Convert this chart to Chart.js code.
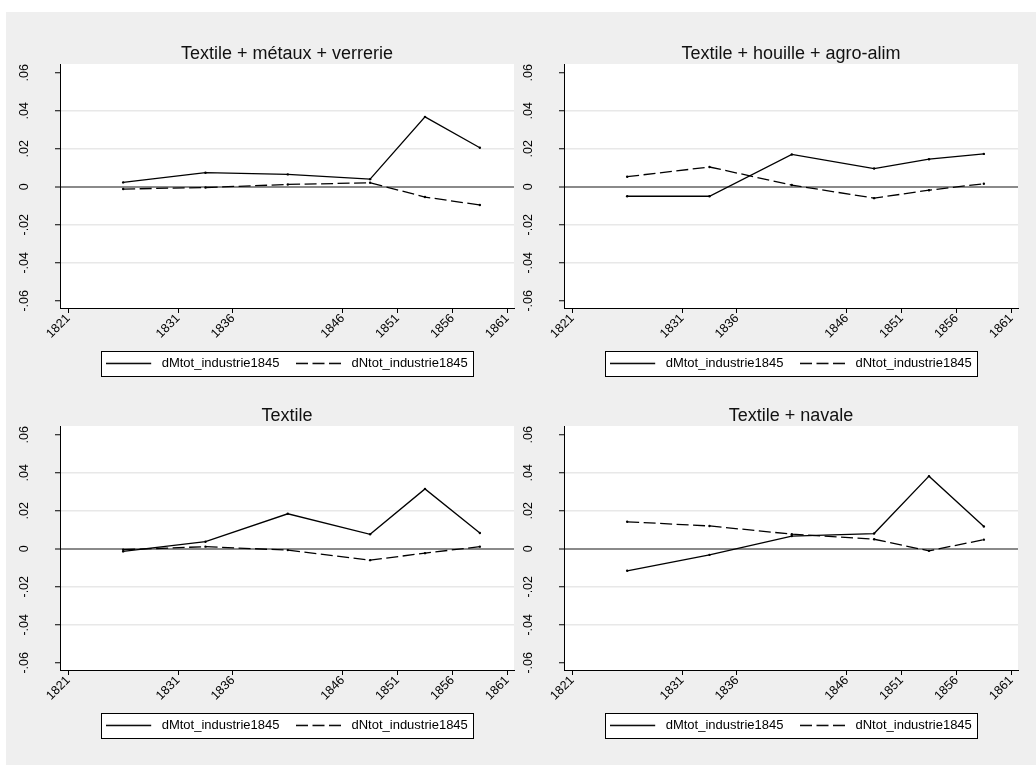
<!DOCTYPE html>
<html>
<head>
<meta charset="utf-8">
<script src="https://cdn.jsdelivr.net/npm/chart.js@4.4.1/dist/chart.umd.min.js"></script>
<style>
  html, body { margin: 0; padding: 0; background: #ffffff; width: 1036px; height: 765px; overflow: hidden; }
  #frame { position: absolute; left: 6px; top: 12px; width: 1030px; height: 753px; background: #efefef; }
  .panel { position: absolute; width: 512px; height: 388px; }
  .panel canvas { display: block; }
</style>
</head>
<body>
<div id="frame"></div>
<div class="panel" style="left:6px;top:12px"><canvas id="p0" width="512" height="388"></canvas></div>
<div class="panel" style="left:510px;top:12px"><canvas id="p1" width="512" height="388"></canvas></div>
<div class="panel" style="left:6px;top:374px"><canvas id="p2" width="512" height="388"></canvas></div>
<div class="panel" style="left:510px;top:374px"><canvas id="p3" width="512" height="388"></canvas></div>
<script>
// Midpoints of the census intervals (1821-31, 1831-36, 1836-46, 1846-51, 1851-56, 1856-61)
const years = [1826, 1833.5, 1841, 1848.5, 1853.5, 1858.5];

const xTickValues = [1821, 1831, 1836, 1846, 1851, 1856, 1861];
const xTickLabels = ['1821', '1831', '1836', '1846', '1851', '1856', '1861'];
const yTickValues = [-0.06, -0.04, -0.02, 0, 0.02, 0.04, 0.06];
const yTickLabels = ['-.06', '-.04', '-.02', '0', '.02', '.04', '.06'];

const seriesNames = ['dMtot_industrie1845', 'dNtot_industrie1845'];
const panelTitles = ['Textile + métaux + verrerie', 'Textile + houille + agro-alim', 'Textile', 'Textile + navale'];

const dMtot_metauxVerrerie = [0.0023, 0.0074, 0.0065, 0.0040, 0.0368, 0.0205];
const dNtot_metauxVerrerie = [-0.0012, -0.0004, 0.0012, 0.0021, -0.0054, -0.0096];

const dMtot_houilleAgro = [-0.0050, -0.0050, 0.0170, 0.0096, 0.0145, 0.0173];
const dNtot_houilleAgro = [0.0053, 0.0104, 0.0009, -0.0060, -0.0018, 0.0016];

const dMtot_textile = [-0.0014, 0.0037, 0.0184, 0.0076, 0.0315, 0.0083];
const dNtot_textile = [-0.0005, 0.0011, -0.0007, -0.0060, -0.0023, 0.0011];

const dMtot_navale = [-0.0116, -0.0032, 0.0067, 0.0080, 0.0382, 0.0117];
const dNtot_navale = [0.0142, 0.0120, 0.0077, 0.0050, -0.0011, 0.0048];

const FAMILY = "'Liberation Sans', Arial, Helvetica, sans-serif";
const tickFont = { family: FAMILY, size: 12.5 };
const dashPattern = [12, 4.5];

// Legend key: a line sample followed by a small blank before the label
function legendKey(dash) {
  const c = document.createElement('canvas');
  c.width = 49; c.height = 5;
  const g = c.getContext('2d');
  g.strokeStyle = '#000';
  g.lineWidth = 1.3;
  g.setLineDash(dash);
  g.beginPath();
  g.moveTo(0, 2.5);
  g.lineTo(45, 2.5);
  g.stroke();
  return c;
}

// White plot region and framed legend box
const panelChrome = {
  id: 'panelChrome',
  beforeDraw(chart) {
    const { ctx, chartArea: a } = chart;
    ctx.save();
    ctx.fillStyle = '#ffffff';
    ctx.fillRect(a.left, a.top, a.right - a.left, a.bottom - a.top);
    const hb = chart.legend && chart.legend.legendHitBoxes;
    if (hb && hb.length) {
      const first = hb[0], last = hb[hb.length - 1];
      const x1 = Math.round(first.left - 5) + 0.5;
      const x2 = Math.round(last.left + last.width + 5) + 0.5;
      const y1 = Math.round(first.top - 6) + 0.5;
      const y2 = Math.round(first.top + first.height + 6) + 0.5;
      ctx.fillStyle = '#ffffff';
      ctx.fillRect(x1, y1, x2 - x1, y2 - y1);
      ctx.strokeStyle = '#000000';
      ctx.lineWidth = 1;
      ctx.strokeRect(x1, y1, x2 - x1, y2 - y1);
    }
    ctx.restore();
  }
};

function series(label, values, dash) {
  return {
    label,
    data: years.map((x, i) => ({ x, y: values[i] })),
    borderColor: '#000000',
    backgroundColor: '#000000',
    borderWidth: 1.3,
    borderDash: dash,
    pointRadius: 1.2,
    pointBorderWidth: 0,
    pointBackgroundColor: '#000000',
    tension: 0,
    fill: false
  };
}

function buildPanel(id, title, dM, dN) {
  return new Chart(document.getElementById(id), {
    type: 'line',
    data: {
      datasets: [
        series(seriesNames[0], dM, []),
        series(seriesNames[1], dN, dashPattern)
      ]
    },
    options: {
      responsive: false,
      animation: false,
      events: [],
      layout: { padding: { top: 0, left: 0, right: 3, bottom: 20.1 } },
      plugins: {
        tooltip: { enabled: false },
        title: {
          display: true,
          text: title,
          color: '#111111',
          fullSize: false,
          font: { family: FAMILY, size: 18, weight: 'normal', lineHeight: '18px' },
          padding: { top: 33, bottom: 1 }
        },
        legend: {
          display: true,
          position: 'bottom',
          fullSize: false,
          labels: {
            color: '#000000',
            font: { family: FAMILY, size: 13 },
            usePointStyle: true,
            pointStyleWidth: 49,
            padding: 16.5,
            generateLabels(chart) {
              const items = Chart.defaults.plugins.legend.labels.generateLabels(chart);
              items.forEach((it, i) => {
                it.pointStyle = legendKey(chart.data.datasets[i].borderDash || []);
              });
              return items;
            }
          }
        }
      },
      scales: {
        x: {
          type: 'linear',
          position: 'bottom',
          min: 1820.245,
          max: 1861.61,
          afterBuildTicks: s => { s.ticks = xTickValues.map(v => ({ value: v })); },
          afterFit: s => { s.height = 32.4; },
          ticks: {
            autoSkip: false,
            minRotation: 45,
            maxRotation: 45,
            padding: -2,
            color: '#000000',
            font: tickFont,
            callback: (v, i) => xTickLabels[i]
          },
          grid: { display: true, drawOnChartArea: false, drawTicks: true, tickLength: 5, color: '#000000', lineWidth: 1 },
          border: { display: true, color: '#000000', width: 1 }
        },
        y: {
          type: 'linear',
          min: -0.0638,
          max: 0.0646,
          afterBuildTicks: s => { s.ticks = yTickValues.map(v => ({ value: v })); },
          afterFit: s => { s.width = 54; },
          ticks: {
            minRotation: 90,
            maxRotation: 90,
            crossAlign: 'center',
            padding: 20,
            color: '#000000',
            font: tickFont,
            callback: (v, i) => yTickLabels[i]
          },
          grid: {
            drawOnChartArea: true,
            drawTicks: true,
            tickLength: 5,
            tickColor: '#000000',
            tickWidth: 1,
            color: c => {
              const v = c.tick ? c.tick.value : 0;
              if (Math.abs(v) < 1e-9) return '#8a8a8a';
              if (Math.abs(v) > 0.05) return 'rgba(0,0,0,0)';
              return '#e8e8e8';
            },
            lineWidth: c => {
              const v = c.tick ? c.tick.value : 0;
              return Math.abs(v) < 1e-9 ? 2 : 1.5;
            }
          },
          border: { display: true, color: '#000000', width: 1 }
        }
      }
    },
    plugins: [panelChrome]
  });
}

buildPanel('p0', panelTitles[0], dMtot_metauxVerrerie, dNtot_metauxVerrerie);
buildPanel('p1', panelTitles[1], dMtot_houilleAgro, dNtot_houilleAgro);
buildPanel('p2', panelTitles[2], dMtot_textile, dNtot_textile);
buildPanel('p3', panelTitles[3], dMtot_navale, dNtot_navale);
</script>
</body>
</html>
